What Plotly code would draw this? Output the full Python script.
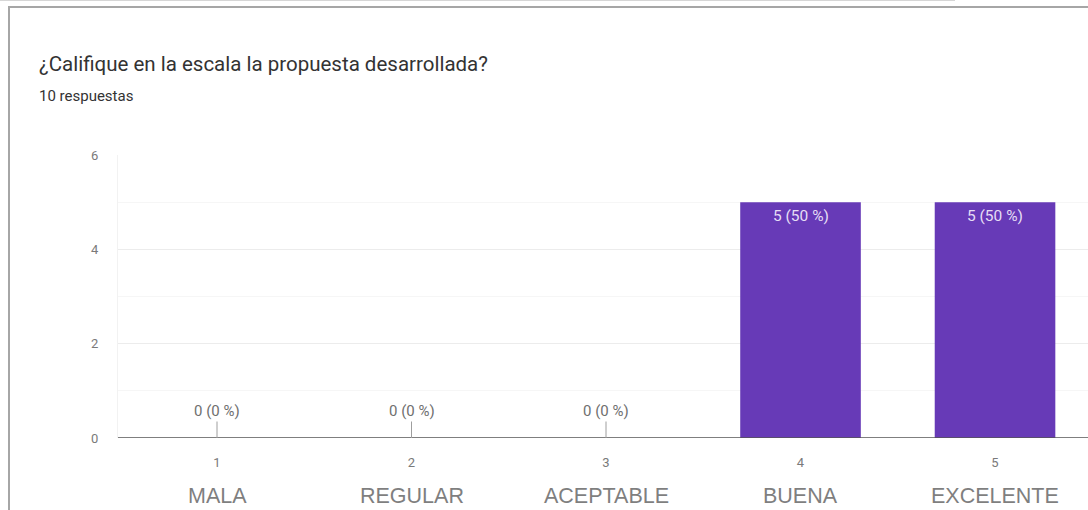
import plotly.graph_objects as go

# Survey results: rating scale 1-5
scale_values = [1, 2, 3, 4, 5]
scale_labels = ["1", "2", "3", "4", "5"]
scale_names = ["MALA", "REGULAR", "ACEPTABLE", "BUENA", "EXCELENTE"]
counts = [0, 0, 0, 5, 5]
y_ticks = [0, 2, 4, 6]

title_text = "¿Califique en la escala la propuesta desarrollada?"
total = sum(counts)
subtitle_text = f"{total} respuestas"

W, H = 1088, 510
ML, MR, MT, MB = 118, 0, 155, 72
PW, PH = W - ML - MR, H - MT - MB

BAR_COLOR = "#673ab7"
AXIS_TEXT = "#7a7a7a"


def px_x(px):
    return (px - ML) / PW


def px_y(py):
    return (H - MB - py) / PH


fig = go.Figure()
fig.add_trace(go.Bar(
    x=scale_values,
    y=counts,
    marker=dict(color=BAR_COLOR, line=dict(width=0)),
    hoverinfo="skip",
    showlegend=False,
))

annotations = []
for xv, c in zip(scale_values, counts):
    pct = round(100 * c / total) if total else 0
    label = f"{c} ({pct} %)"
    if c > 0:
        annotations.append(dict(
            x=xv, y=c, xref="x", yref="y", text=label, showarrow=False,
            yanchor="top", yshift=-3,
            font=dict(family="Roboto, Arial, sans-serif", size=15.5, color="#e6def5"),
        ))
    else:
        annotations.append(dict(
            x=xv, y=c, xref="x", yref="y", text=label, showarrow=True,
            arrowhead=0, arrowwidth=1, arrowcolor="#9e9e9e", ax=0, ay=-27,
            font=dict(family="Roboto, Arial, sans-serif", size=15, color="#6f6f6f"),
        ))

# category names below the numeric ticks
for xv, name in zip(scale_values, scale_names):
    annotations.append(dict(
        x=xv, y=0, xref="x", yref="y", text=name, showarrow=False,
        yanchor="middle", yshift=-58,
        font=dict(family="Arial, Liberation Sans, sans-serif", size=21.5, color="#7f7f7f"),
    ))

# title and response count
annotations.append(dict(
    x=px_x(37), y=px_y(64), xref="paper", yref="paper", text=title_text,
    showarrow=False, xanchor="left", yanchor="middle",
    font=dict(family="Roboto, Arial, sans-serif", size=20.5, color="#333333"),
))
annotations.append(dict(
    x=px_x(37), y=px_y(96), xref="paper", yref="paper", text=subtitle_text,
    showarrow=False, xanchor="left", yanchor="middle",
    font=dict(family="Roboto, Arial, sans-serif", size=15, color="#333333"),
))

shapes = [
    # faint line at the very top
    dict(type="line", xref="paper", yref="paper",
         x0=px_x(0), x1=px_x(955), y0=px_y(0.5), y1=px_y(0.5),
         line=dict(color="#d6d6d6", width=1)),
    # card border (top and left)
    dict(type="line", xref="paper", yref="paper",
         x0=px_x(8), x1=px_x(1090), y0=px_y(7), y1=px_y(7),
         line=dict(color="#a6a6a6", width=2)),
    dict(type="line", xref="paper", yref="paper",
         x0=px_x(9), x1=px_x(9), y0=px_y(7), y1=px_y(512),
         line=dict(color="#a6a6a6", width=2)),
    # baseline
    dict(type="line", xref="paper", yref="y",
         x0=0, x1=1, y0=0, y1=0,
         line=dict(color="#555555", width=1.5)),
]

fig.update_layout(
    width=W, height=H,
    margin=dict(l=ML, r=MR, t=MT, b=MB, pad=0),
    paper_bgcolor="white",
    plot_bgcolor="white",
    bargap=0.38,
    annotations=annotations,
    shapes=shapes,
    xaxis=dict(
        range=[0.491, 5.478],
        tickmode="array", tickvals=scale_values, ticktext=scale_labels,
        showgrid=False, zeroline=False, showline=False,
        ticks="", ticklabelstandoff=15,
        tickfont=dict(family="Roboto, Arial, sans-serif", size=13, color=AXIS_TEXT),
        fixedrange=True,
    ),
    yaxis=dict(
        range=[0, 6],
        tickmode="array", tickvals=y_ticks, ticktext=[str(v) for v in y_ticks],
        showgrid=True, gridcolor="#ececec", gridwidth=1,
        minor=dict(dtick=1, showgrid=True, gridcolor="#f6f6f6", gridwidth=1),
        zeroline=False, showline=True, linecolor="#f2f2f2", linewidth=1,
        ticks="", ticklabelstandoff=16,
        tickfont=dict(family="Roboto, Arial, sans-serif", size=13, color=AXIS_TEXT),
        fixedrange=True,
    ),
)

fig.write_html("out.html", config={"displayModeBar": False})
